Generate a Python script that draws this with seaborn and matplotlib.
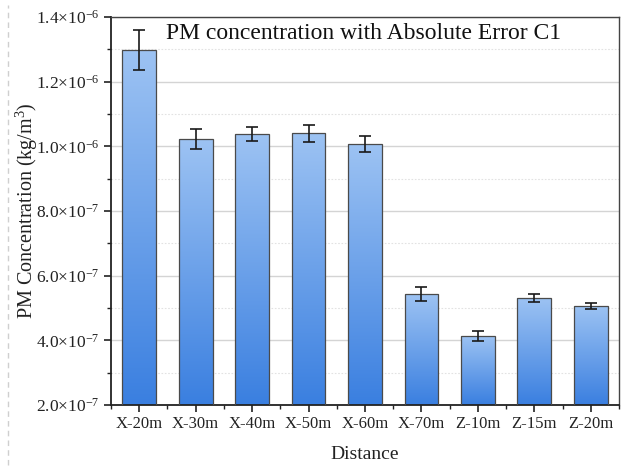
import numpy as np
import pandas as pd
import seaborn as sns
import matplotlib
matplotlib.use("Agg")
import matplotlib.pyplot as plt
from matplotlib.ticker import FixedLocator, MultipleLocator, FuncFormatter
from matplotlib.colors import LinearSegmentedColormap
from matplotlib.lines import Line2D

categories = ["X-20m", "X-30m", "X-40m", "X-50m", "X-60m", "X-70m", "Z-10m", "Z-15m", "Z-20m"]
values = [1.298e-6, 1.023e-6, 1.038e-6, 1.040e-6, 1.008e-6, 0.543e-6, 0.414e-6, 0.531e-6, 0.507e-6]
errors = [0.062e-6, 0.031e-6, 0.023e-6, 0.026e-6, 0.025e-6, 0.022e-6, 0.015e-6, 0.012e-6, 0.009e-6]
yticks = [2e-7, 4e-7, 6e-7, 8e-7, 1.0e-6, 1.2e-6, 1.4e-6]

sns.set_theme(style="white")
plt.rcParams["font.family"] = ["Liberation Serif", "DejaVu Serif"]
plt.rcParams["mathtext.fontset"] = "custom"
plt.rcParams["mathtext.rm"] = "Liberation Serif"
plt.rcParams["mathtext.it"] = "Liberation Serif:italic"

df = pd.DataFrame({"Distance": categories, "Value": values})

fig = plt.figure(figsize=(6.26, 4.70), dpi=100)
ax = fig.add_axes([111/626, 1-405/470, (619-111)/626, (405-17)/470])

sns.barplot(data=df, x="Distance", y="Value", ax=ax, errorbar=None, width=0.6,
            color="#6fa3ea", edgecolor="#4a4a4a", linewidth=0.9, zorder=3)

ymin, ymax = 2e-7, 1.4e-6
ax.set_ylim(ymin, ymax)
ax.set_xlim(-0.5, len(categories) - 0.5)

cmap = LinearSegmentedColormap.from_list("grad", ["#3a7fe0", "#9dc3f3"])
grad = np.linspace(0, 1, 256).reshape(-1, 1)
centers = []
for p in ax.patches:
    x0 = p.get_x()
    w = p.get_width()
    h = p.get_height()
    centers.append(x0 + w / 2)
    im = ax.imshow(grad, cmap=cmap, origin="lower", aspect="auto",
                   extent=[x0, x0 + w, ymin, h], zorder=2.5, interpolation="bilinear")
    im.set_clip_path(p)
    p.set_facecolor("none")
ax.set_xlim(-0.5, len(categories) - 0.5)
ax.set_ylim(ymin, ymax)

ax.errorbar(centers, values, yerr=errors, fmt="none", ecolor="#1a1a1a",
            elinewidth=1.2, capsize=4, capthick=1.2, zorder=4)

# Grid
ax.yaxis.set_major_locator(FixedLocator(yticks))
ax.yaxis.set_minor_locator(MultipleLocator(1e-7))
ax.grid(axis="y", which="major", color="#d4d4d4", linewidth=1.0, linestyle="-", zorder=0)
ax.grid(axis="y", which="minor", color="#e2e2e2", linewidth=0.8, linestyle=(0, (1.5, 1.5)), zorder=0)
ax.grid(axis="x", which="both", visible=False)
ax.set_axisbelow(True)

def fmt(v, pos):
    exp = int(np.floor(np.log10(v) + 1e-9))
    mant = v / 10**exp
    return r"%.1f$\times$10$^{%d}$" % (mant, exp)

ax.yaxis.set_major_formatter(FuncFormatter(fmt))
ax.xaxis.set_minor_locator(FixedLocator(np.arange(-0.5, len(categories), 1.0)))

for s in ax.spines.values():
    s.set_visible(True)
    s.set_color("#222222")
ax.spines["left"].set_linewidth(1.3)
ax.spines["bottom"].set_linewidth(1.3)
ax.spines["top"].set_linewidth(1.0)
ax.spines["right"].set_linewidth(1.0)
ax.spines["top"].set_color("#444444")
ax.spines["right"].set_color("#444444")

ax.tick_params(axis="both", which="major", direction="out", length=5, width=1.2,
               color="#222222", labelsize=12.5, labelcolor="#222222", pad=3,
               left=True, bottom=True)
ax.tick_params(axis="both", which="minor", direction="out", length=3, width=1.0,
               color="#222222", left=True, bottom=True)
ax.tick_params(axis="x", labelsize=12)

ax.set_xlabel("Distance", fontsize=14, color="#222222", labelpad=10)
ax.set_ylabel("PM Concentration (kg/m$^3$)", fontsize=14.5, color="#222222", labelpad=-3)

ax.text(0.497, 0.985, "PM concentration with Absolute Error C1", transform=ax.transAxes,
        ha="center", va="top", fontsize=17, color="#111111", zorder=5)

fig.add_artist(Line2D([8/626, 8/626], [0.01, 0.99], transform=fig.transFigure,
                      color="#cfcfcf", linestyle=(0, (4, 3)), linewidth=1.0))

fig.savefig("out.png", dpi=100, facecolor="white")
